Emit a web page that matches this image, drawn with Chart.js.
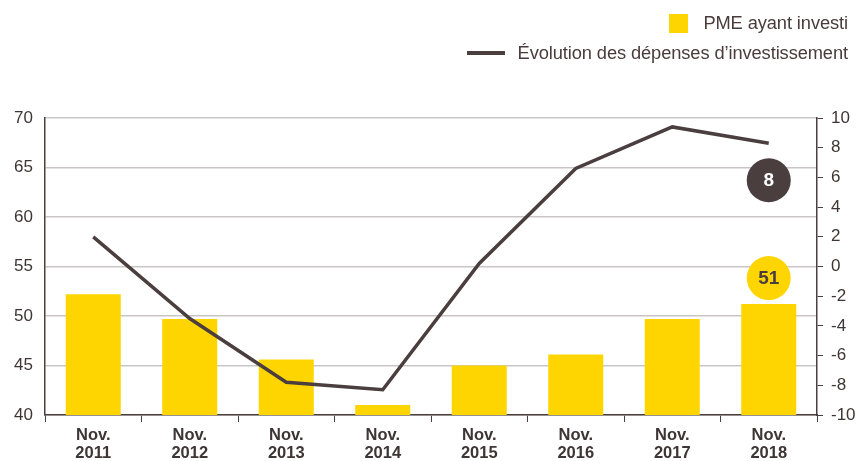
<!DOCTYPE html>
<html>
<head>
<meta charset="utf-8">
<script src="https://cdn.jsdelivr.net/npm/chart.js@4"></script>
<style>
  body { margin: 0; background: #fff; }
  #wrap { position: relative; width: 857px; height: 461px; }
  #legend { position: absolute; right: 9px; top: 8px; font-family: "Liberation Sans", Arial, sans-serif; font-size: 18.3px; color: #4a3c3c; letter-spacing: -0.1px; }
  .row { display: flex; align-items: center; justify-content: flex-end; height: 30px; }
  .sq { width: 19px; height: 19px; background: #FFD500; margin-right: 15px; }
  .ln { width: 38px; height: 4px; background: #4b3e3f; margin-right: 13px; }
</style>
</head>
<body>
<div id="wrap">
  <canvas id="myChart" width="857" height="461"></canvas>
  <div id="legend">
    <div class="row"><span class="sq"></span>PME ayant investi</div>
    <div class="row"><span class="ln"></span>Évolution des dépenses d’investissement</div>
  </div>
</div>
<script>
const categories = ['Nov. 2011', 'Nov. 2012', 'Nov. 2013', 'Nov. 2014', 'Nov. 2015', 'Nov. 2016', 'Nov. 2017', 'Nov. 2018'];
const pmeInvesti = [52.2, 49.7, 45.6, 41.0, 45.0, 46.1, 49.7, 51.2];
const evolutionDepenses = [2.0, -3.5, -7.8, -8.3, 0.2, 6.6, 9.4, 8.3];
const leftTicks = [40, 70, 5];
const rightTicks = [-10, 10, 2];
const lastLabels = ['51', '8'];

const yellow = '#FFD500';
const dark = '#4b3e3f';
const textColor = '#3e3535';

// bulles sur la dernière catégorie
const bubbles = {
  id: 'bubbles',
  afterDatasetsDraw(chart) {
    const ctx = chart.ctx;
    const x = chart.scales.x;
    const last = categories.length - 1;
    const cx = x.getPixelForValue(last);
    const yBar = chart.scales.y.getPixelForValue(pmeInvesti[last]) - 26;
    const yLine = chart.scales.y1.getPixelForValue(evolutionDepenses[last]) + 37;
    ctx.save();
    ctx.font = 'bold 19px "Liberation Sans", Arial, sans-serif';
    ctx.textAlign = 'center';
    ctx.textBaseline = 'middle';
    ctx.fillStyle = yellow;
    ctx.beginPath(); ctx.arc(cx, yBar, 22, 0, Math.PI * 2); ctx.fill();
    ctx.fillStyle = dark;
    ctx.fillText(lastLabels[0], cx, yBar + 1);
    ctx.beginPath(); ctx.arc(cx, yLine, 22, 0, Math.PI * 2); ctx.fill();
    ctx.fillStyle = '#fff';
    ctx.fillText(lastLabels[1], cx, yLine + 1);
    ctx.restore();
  }
};

const ctx = document.getElementById('myChart');
new Chart(ctx, {
  data: {
    labels: categories.map(c => c.split(' ')),
    datasets: [{
      type: 'line',
      label: 'Évolution des dépenses d’investissement',
      data: evolutionDepenses,
      yAxisID: 'y1',
      borderColor: dark,
      borderWidth: 3.5,
      pointRadius: 0,
      tension: 0,
      order: 0
    }, {
      type: 'bar',
      label: 'PME ayant investi',
      data: pmeInvesti,
      yAxisID: 'y',
      backgroundColor: yellow,
      categoryPercentage: 1,
      barPercentage: 0.57,
      order: 1
    }]
  },
  options: {
    responsive: false,
    animation: false,
    layout: { padding: { top: 118, right: 0, left: 0, bottom: 0 } },
    plugins: { legend: { display: false }, tooltip: { enabled: false } },
    scales: {
      x: {
        grid: { drawOnChartArea: false, offset: true, tickLength: 7, color: dark },
        border: { color: dark, width: 1.5 },
        ticks: { color: textColor, font: { family: '"Liberation Sans", Arial, sans-serif', size: 16.5, weight: 'bold', lineHeight: 1.05 }, padding: 5, maxRotation: 0 },
        afterFit(s) { s.height = 46; }
      },
      y: {
        position: 'left',
        min: leftTicks[0], max: leftTicks[1],
        ticks: { stepSize: leftTicks[2], color: textColor, font: { family: '"Liberation Sans", Arial, sans-serif', size: 17 }, padding: 12 },
        grid: { color: '#c9c5c5', lineWidth: 1.5, drawTicks: false },
        border: { color: dark, width: 1.5 },
        afterFit(s) { s.width = 45; }
      },
      y1: {
        position: 'right',
        min: rightTicks[0], max: rightTicks[1],
        ticks: { stepSize: rightTicks[2], color: textColor, font: { family: '"Liberation Sans", Arial, sans-serif', size: 17 }, padding: 8 },
        grid: { drawOnChartArea: false, tickLength: 6, color: dark },
        border: { color: dark, width: 1.5 },
        afterFit(s) { s.width = 40; }
      }
    }
  },
  plugins: [bubbles]
});
</script>
</body>
</html>
